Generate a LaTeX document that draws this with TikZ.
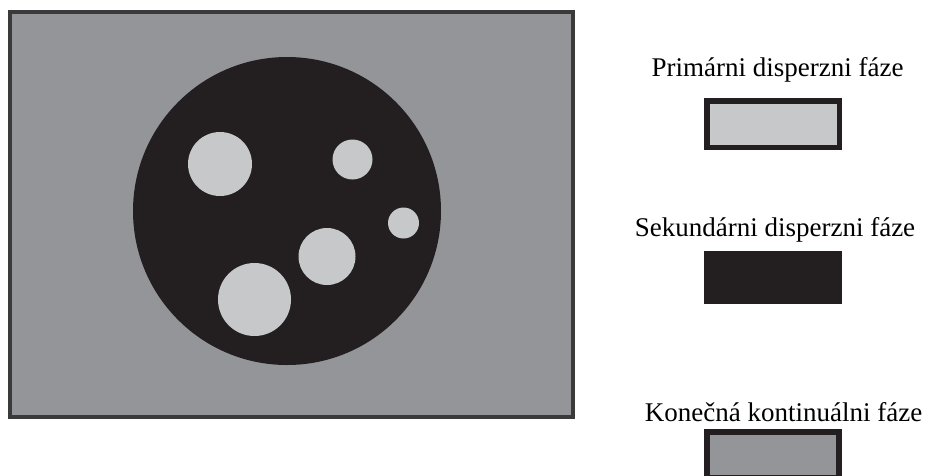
\documentclass[tikz,border=0pt]{standalone}
\usepackage{fontspec}
\setmainfont{Liberation Serif}
\definecolor{phaseDark}{HTML}{231F20}
\definecolor{phaseLight}{HTML}{C7C8CA}
\definecolor{phaseMid}{HTML}{939598}
\definecolor{frameGray}{HTML}{3A3A3A}
\tikzset{
  legendtext/.style={anchor=base, inner sep=0pt, font=\fontsize{27}{32}\selectfont},
  droplet/.style={fill=phaseLight, draw=none},
  legendbox/.style={draw=phaseDark, line width=5.5pt},
}
\begin{document}
\begin{tikzpicture}[x=1pt, y=-1pt]
\useasboundingbox (0,0) rectangle (929,475);
% continuous phase with the large secondary droplet
\node[draw=frameGray, line width=4pt, fill=phaseMid, minimum width=563pt, minimum height=405pt, inner sep=0pt, anchor=north west] (matrix) at (8,10) {};
\node[circle, fill=phaseDark, minimum size=308pt, inner sep=0pt] (drop) at (287,211) {};
% primary droplets inside it
\node[droplet, circle, minimum size=64pt, inner sep=0pt] (p1) at (220,164) {};
\node[droplet, circle, minimum size=40pt, inner sep=0pt] (p2) at (352.5,159.5) {};
\node[droplet, circle, minimum size=31pt, inner sep=0pt] (p3) at (403.5,223) {};
\node[droplet, circle, minimum size=57pt, inner sep=0pt] (p4) at (327,256.5) {};
\node[droplet, circle, minimum size=73pt, inner sep=0pt] (p5) at (254.5,299.5) {};
% legend
\node[legendtext] (t1) at (777.5,76) {Primárni disperzni fáze};
\node[legendbox, fill=phaseLight, minimum width=132.5pt, minimum height=46.5pt, inner sep=0pt] (b1) at (773,124) {};
\node[legendtext] (t2) at (775,236) {Sekundárni disperzni fáze};
\node[fill=phaseDark, minimum width=138pt, minimum height=53pt, inner sep=0pt] (b2) at (773,277.5) {};
\node[legendtext] (t3) at (783.5,421) {Konečná kontinuálni fáze};
\node[legendbox, fill=phaseMid, minimum width=132pt, minimum height=46pt, inner sep=0pt] (b3) at (773,455) {};
\end{tikzpicture}
\end{document}
